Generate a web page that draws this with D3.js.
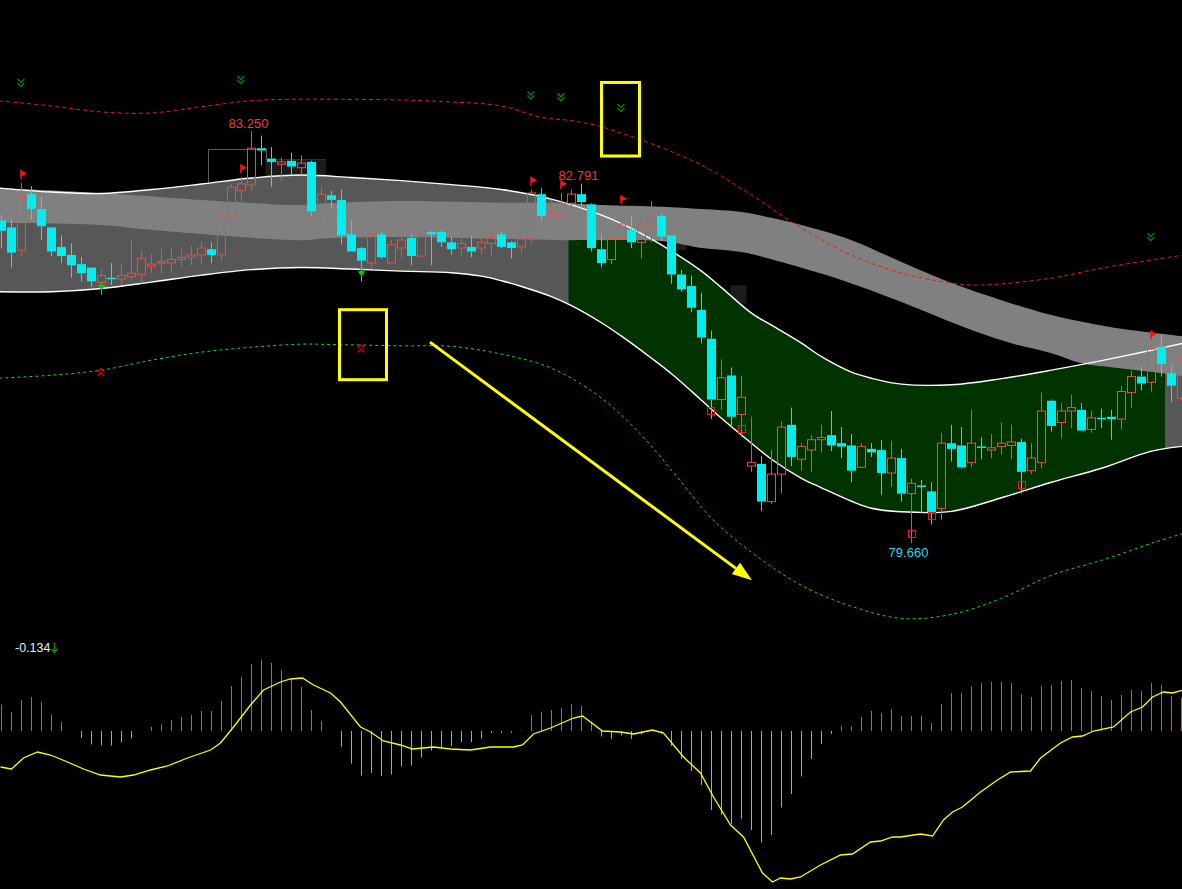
<!DOCTYPE html>
<html>
<head>
<meta charset="utf-8">
<script src="https://d3js.org/d3.v7.min.js"></script>
<style>
html, body { margin: 0; padding: 0; background: #000; overflow: hidden; }
</style>
</head>
<body>
<div id="chart"></div>
<script>
// ---- candles (bar 0..118) ----
const candleOpen = [82.47,82.41,82.21,82.70,82.57,82.41,82.24,82.17,82.09,82.06,81.93,81.97,81.96,81.98,82.00,82.07,82.10,82.10,82.13,82.15,
  82.17,82.22,82.17,82.50,82.73,82.78,83.10,83.01,82.96,82.99,82.93,82.98,82.55,82.69,82.65,82.35,82.23,82.10,82.35,82.10,
  82.23,82.32,82.16,82.37,82.37,82.28,82.23,82.24,82.23,82.27,82.35,82.28,82.24,82.31,82.70,82.50,82.52,82.62,82.70,82.61,
  82.22,82.13,82.31,82.39,82.28,82.42,82.51,82.34,82.00,81.90,81.69,81.44,80.91,81.12,80.78,80.33,80.35,80.02,80.26,80.69,
  80.39,80.47,80.56,80.60,80.53,80.51,80.32,80.48,80.47,80.27,80.40,80.09,80.16,80.11,79.96,80.53,80.51,80.36,80.50,80.47,
  80.50,80.51,80.54,80.29,80.36,80.90,80.71,80.81,80.82,80.65,80.75,80.76,80.74,80.97,81.11,81.06,81.37,81.14,80.92];
const candleHigh = [82.52,82.48,82.80,82.77,82.68,82.41,82.34,82.27,82.15,82.06,82.04,82.10,82.10,82.30,82.21,82.18,82.22,82.23,82.22,82.25,
  82.29,82.28,82.61,82.79,82.85,83.25,83.21,83.11,83.02,83.06,83.04,82.99,82.76,82.73,82.74,82.47,82.24,82.37,82.37,82.30,
  82.34,82.35,82.62,82.38,82.39,82.33,82.42,82.34,82.34,82.38,82.38,82.29,82.37,82.74,82.75,82.65,82.71,82.74,82.791,82.62,
  82.35,82.36,82.58,82.51,82.52,82.64,82.53,82.34,82.04,81.99,81.84,81.51,81.26,81.19,81.12,80.76,80.42,80.47,80.72,80.84,
  80.53,80.60,80.69,80.81,80.67,80.61,80.53,80.53,80.56,80.55,80.48,80.22,80.21,80.19,80.62,80.69,80.67,80.82,80.58,80.61,
  80.71,80.69,80.57,80.53,80.97,80.91,80.88,80.95,80.88,80.81,80.83,80.82,81.03,81.16,81.20,81.40,81.48,81.21,81.30];
const candleLow = [82.23,82.06,82.15,82.48,82.30,82.16,82.10,81.97,81.94,81.89,81.82,81.91,81.91,81.95,81.92,82.01,82.01,82.02,82.07,82.08,
  82.09,82.10,82.12,82.42,82.63,82.73,82.95,82.76,82.81,82.87,82.87,82.51,82.44,82.58,82.26,82.20,81.94,82.05,82.14,82.10,
  82.14,82.08,82.15,82.08,82.24,82.17,82.15,82.15,82.17,82.15,82.23,82.14,82.19,82.27,82.47,82.48,82.47,82.53,82.59,82.20,
  82.06,82.09,82.30,82.23,82.14,82.28,82.29,81.92,81.85,81.67,81.40,80.74,80.82,80.66,80.58,80.28,79.94,80.00,80.09,80.33,
  80.29,80.28,80.45,80.46,80.40,80.19,80.32,80.41,80.08,80.15,80.02,79.66,79.92,79.82,79.86,80.37,80.31,80.32,80.39,80.40,
  80.43,80.39,80.09,80.26,80.31,80.63,80.57,80.66,80.64,80.62,80.66,80.56,80.65,80.84,80.99,80.98,81.11,80.89,80.90];
const candleClose = [82.38,82.19,82.68,82.57,82.42,82.20,82.16,82.08,82.01,81.94,81.99,81.96,81.99,82.01,82.14,82.09,82.11,82.13,82.15,82.17,
  82.23,82.17,82.50,82.76,82.79,83.10,83.08,82.98,82.98,82.94,82.97,82.55,82.70,82.65,82.34,82.20,82.12,82.35,82.15,82.26,
  82.30,82.16,82.34,82.35,82.28,82.22,82.27,82.20,82.28,82.33,82.24,82.23,82.31,82.71,82.51,82.54,82.62,82.70,82.63,82.23,
  82.10,82.31,82.44,82.28,82.44,82.51,82.33,82.00,81.87,81.71,81.45,80.91,81.10,80.76,80.93,80.36,80.02,80.26,80.67,80.41,
  80.50,80.56,80.58,80.51,80.50,80.29,80.50,80.45,80.27,80.40,80.09,80.18,80.15,79.93,80.53,80.48,80.32,80.53,80.49,80.49,
  80.53,80.54,80.28,80.40,80.81,80.68,80.81,80.84,80.64,80.75,80.74,80.74,80.98,81.11,81.05,81.35,81.22,81.03,81.25];

// ---- envelope (white lines), keyed by bar index ----
const envUpperBar = [-0.2,5,10,15,20,25,30,35,40,45,50,55,60,62,65,67,70,72,75,77,80,82,85,87,90,95,100,105,110,115,118.2];
const envUpperVal = [82.753,82.718,82.705,82.740,82.788,82.840,82.866,82.845,82.818,82.783,82.740,82.657,82.517,82.443,82.308,82.204,82.029,81.885,81.663,81.558,81.401,81.284,81.149,81.096,81.044,81.039,81.092,81.166,81.249,81.340,81.401];
const envLowerBar = [-0.2,5,10,15,20,25,30,35,40,45,48,50,52,55,57,60,62,65,67,70,72,75,77,80,82,85,87,90,95,100,105,110,115,118.2];
const envLowerVal = [81.849,81.849,81.878,81.933,81.994,82.042,82.061,82.047,82.029,82.015,81.985,81.945,81.895,81.807,81.728,81.579,81.462,81.270,81.135,80.904,80.747,80.529,80.390,80.224,80.141,80.024,79.963,79.932,79.936,80.054,80.189,80.311,80.460,80.503];
const trendZoneFrom = [56.7];
const trendZoneTo = [116.35];

// ---- grey ribbon ----
const ribbonTopBar = [-0.2,10,13,20,25,30,33,40,50,56,60,66,70,74,78,80,85,90,95,100,105,111,118.2];
const ribbonTopVal = [82.753,82.709,82.692,82.648,82.622,82.605,82.622,82.640,82.625,82.622,82.605,82.590,82.570,82.544,82.474,82.430,82.299,82.108,81.925,81.776,81.646,81.541,81.462];
const ribbonBotBar = [-0.2,10,14,20,30,33,40,50,56,60,66,70,74,78,84,90,97,101,105,108,111,116,118.2];
const ribbonBotVal = [82.448,82.430,82.395,82.352,82.299,82.317,82.326,82.309,82.299,82.299,82.291,82.230,82.195,82.108,81.951,81.759,81.515,81.401,81.314,81.227,81.192,81.140,81.114];

// ---- dashed channel lines ----
const dashUpperBar = [-0.2,5,10,15,20,25,29,34,40,45,50,54,57,60,62,64,70,75,80,85,90,95,98,105,110,118.2];
const dashUpperVal = [83.512,83.468,83.416,83.407,83.462,83.514,83.526,83.526,83.520,83.503,83.468,83.369,83.340,83.287,83.230,83.172,82.953,82.692,82.404,82.169,82.012,81.925,81.907,81.968,82.055,82.169];
const dashLowerBar = [-0.2,5,10,15,20,25,30,33,40,45,50,55,60,64,68,71,75,80,85,90,95,100,105,110,115,118.2];
const dashLowerVal = [81.096,81.122,81.166,81.253,81.323,81.366,81.393,81.390,81.378,81.373,81.305,81.183,80.922,80.599,80.189,79.875,79.579,79.291,79.108,79.003,79.038,79.178,79.379,79.509,79.657,79.744];

// ---- signals ----
const sellBars = [2, 24, 53, 56, 62, 115];
const sellLevel = [83.668, 83.695, 83.560, 83.543, 83.451, 82.326];
const buyBars = [10, 36];
const buyLevel = [81.149, 81.354];
const stopBars = [71, 74, 91, 93, 102];
const stopLevel = [80.808, 80.651, 79.740, 79.897, 80.163];
const highLabelBars = [25, 58];
const lowLabelBars = [91];

// ---- shaded boxes [bar from, bar to, price top, price bottom] ----
const boxOutline = [[20.6, 26.4, 83.093, 82.77]];
const boxDark = [[26.4, 32.45, 83.006, 82.858], [67.5, 68.5, 82.299, 82.212], [72.9, 74.5, 81.907, 81.747]];

// ---- hand drawn annotations ----
const noteRects = [[60, 63.8, 83.673, 83.032], [33.8, 38.5, 81.693, 81.083]];
const noteArrow = [[42.85, 81.410], [75.05, 79.335]];

// ---- oscillator panel ----
const histValues = [0.0265,0.019,0.031,0.034,0.029,0.0165,0.009,0,-0.007,-0.0135,-0.0145,-0.0145,-0.011,-0.0075,0,0.004,0.0065,0.011,0.014,0.016,
  0.020,0.020,0.030,0.045,0.054,0.067,0.0715,0.068,0.061,0.0515,0.044,0.021,0.010,0,-0.016,-0.0325,-0.0445,-0.042,-0.045,-0.0435,
  -0.0355,-0.0345,-0.0265,-0.0195,-0.016,-0.015,-0.011,-0.011,-0.0075,-0.002,-0.002,-0.0015,0.0005,0.016,0.0195,0.021,0.023,0.027,0.025,0.0095,
  -0.0055,-0.008,-0.0045,-0.008,-0.0035,0,-0.0025,-0.015,-0.028,-0.040,-0.054,-0.079,-0.084,-0.093,-0.088,-0.099,-0.1115,-0.104,-0.0765,-0.063,
  -0.0455,-0.028,-0.013,-0.003,0.005,0.005,0.014,0.020,0.018,0.022,0.015,0.015,0.015,0.008,0.027,0.038,0.038,0.045,0.048,0.049,
  0.049,0.048,0.037,0.034,0.045,0.046,0.050,0.051,0.043,0.040,0.035,0.031,0.036,0.041,0.040,0.048,0.046,0.035,0.033];
const signalBar = [-0.1,1,2.2,3.6,4.9,6.6,8.2,9.9,11.9,13.2,14.9,16.6,18.6,20.9,21.9,23.2,24.9,26.2,27.9,28.9,30.1,31.2,32.9,33.9,35.9,36.9,38.2,39.9,
  41.1,43.2,44.9,46.9,48.9,51.2,52.1,53.2,54.9,57.2,58.1,60.1,61.9,63.2,65.1,66.2,68.2,69.9,71.2,72.9,74.2,76.1,77.1,77.9,78.9,79.9,
  81.9,83.9,85.1,86.9,87.9,89.1,89.9,91.9,93.1,94.2,95.1,96.1,97.9,99.6,100.9,102.9,103.9,105.9,107.1,108.1,109.2,111.2,112.9,114.1,115.1,116.2,117.1,118.2];
const signalVal = [-0.036,-0.038,-0.027,-0.021,-0.024,-0.031,-0.038,-0.044,-0.046,-0.044,-0.039,-0.035,-0.027,-0.019,-0.012,0.004,0.026,0.041,0.049,0.052,0.053,0.046,0.038,0.029,0.004,-0.001,-0.010,-0.014,
  -0.018,-0.016,-0.018,-0.019,-0.016,-0.016,-0.014,-0.003,0.003,0.013,0.015,0.000,-0.001,-0.003,0.001,-0.002,-0.026,-0.042,-0.066,-0.094,-0.106,-0.142,-0.151,-0.147,-0.148,-0.146,
  -0.134,-0.124,-0.123,-0.111,-0.110,-0.106,-0.106,-0.103,-0.105,-0.089,-0.081,-0.076,-0.061,-0.049,-0.041,-0.040,-0.027,-0.012,-0.006,-0.005,0.000,0.004,0.019,0.024,0.034,0.039,0.038,0.041];
const oscLabel = '-0.134';

const width = 1182, height = 889;
const red = '#f24848', cyan = '#00eef0';

const svg = d3.select('#chart').append('svg')
  .attr('width', width).attr('height', height)
  .style('display', 'block').style('background', '#000');

const x = d3.scaleLinear().domain([0, 118]).range([1.5, 1181.5]);
const y = d3.scaleLinear().domain([79.66, 83.25]).range([543, 131]);
const oy = d3.scaleLinear().domain([-0.15, 0.05]).range([881, 681]);

const smooth = d3.line().curve(d3.curveCatmullRom.alpha(0.5));
function pts(bars, vals) { return bars.map((b, i) => [x(b), y(vals[i])]); }
function band(tb, tv, bb, bv) {
  return smooth(pts(tb, tv)) + 'L' + smooth(pts(bb, bv).reverse()).slice(1) + 'Z';
}

// boxes behind everything
svg.selectAll('.boxo').data(boxOutline).enter().append('rect')
  .attr('x', d => Math.round(x(d[0])) + 0.5).attr('y', d => Math.round(y(d[2])) + 0.5)
  .attr('width', d => x(d[1]) - x(d[0])).attr('height', d => y(d[3]) - y(d[2]))
  .attr('fill', 'none').attr('stroke', '#5a5a5a');
svg.selectAll('.boxd').data(boxDark).enter().append('rect')
  .attr('x', d => x(d[0])).attr('y', d => y(d[2]))
  .attr('width', d => x(d[1]) - x(d[0])).attr('height', d => y(d[3]) - y(d[2]))
  .attr('fill', '#1c1c1c');
svg.append('line')
  .attr('x1', x(boxDark[0][0])).attr('x2', x(boxDark[0][1]))
  .attr('y1', Math.round(y(boxDark[0][2])) + 0.5).attr('y2', Math.round(y(boxDark[0][2])) + 0.5)
  .attr('stroke', '#444').attr('stroke-dasharray', '1,1');

// envelope fill
const envPath = band(envUpperBar, envUpperVal, envLowerBar, envLowerVal);
svg.append('path').attr('d', envPath).attr('fill', '#575757');
svg.append('clipPath').attr('id', 'zone').append('rect')
  .attr('x', x(trendZoneFrom[0])).attr('y', 0)
  .attr('width', x(trendZoneTo[0]) - x(trendZoneFrom[0])).attr('height', height);
svg.append('path').attr('d', envPath).attr('fill', '#003300').attr('clip-path', 'url(#zone)');

// ribbon
svg.append('path').attr('d', band(ribbonTopBar, ribbonTopVal, ribbonBotBar, ribbonBotVal)).attr('fill', '#808080');

// envelope lines
[[envUpperBar, envUpperVal], [envLowerBar, envLowerVal]].forEach(l => {
  svg.append('path').attr('d', smooth(pts(l[0], l[1])))
    .attr('fill', 'none').attr('stroke', '#fff').attr('stroke-width', 1.4);
});

// dashed channel
svg.append('path').attr('d', smooth(pts(dashUpperBar, dashUpperVal)))
  .attr('fill', 'none').attr('stroke', '#e81c1c').attr('stroke-width', 1).attr('stroke-dasharray', '4,3');
svg.append('path').attr('d', smooth(pts(dashLowerBar, dashLowerVal)))
  .attr('fill', 'none').attr('stroke', '#14dc14').attr('stroke-width', 1).attr('stroke-dasharray', '3,3');

// candles
const bars = d3.range(candleOpen.length);
const g = svg.append('g');
bars.forEach(i => {
  const o = candleOpen[i], c = candleClose[i];
  const up = c > o;
  const col = up ? red : cyan;
  let top = y(Math.max(o, c)), bot = y(Math.min(o, c));
  if (bot - top < 1.5) { const m = (top + bot) / 2; top = m - 0.75; bot = m + 0.75; }
  const cx = x(i);
  g.append('line').attr('x1', cx).attr('x2', cx).attr('y1', y(candleHigh[i])).attr('y2', top)
    .attr('stroke', col);
  g.append('line').attr('x1', cx).attr('x2', cx).attr('y1', bot).attr('y2', y(candleLow[i]))
    .attr('stroke', col);
  if (up) {
    g.append('rect').attr('x', cx - 4).attr('y', top).attr('width', 8).attr('height', Math.max(1, bot - top))
      .attr('fill', 'none').attr('stroke', col).attr('stroke-width', 1);
  } else {
    g.append('rect').attr('x', cx - 4.5).attr('y', top).attr('width', 9).attr('height', bot - top)
      .attr('fill', col);
  }
});

// fractal flags on highs
sellBars.forEach(i => {
  const fx = x(i) - 0.5, fy = y(candleHigh[i]) - 12.7;
  svg.append('line').attr('x1', fx).attr('x2', fx).attr('y1', fy).attr('y2', fy + 9)
    .attr('stroke', '#ff1010').attr('stroke-width', 1.5);
  svg.append('path').attr('d', `M${fx},${fy}L${fx + 6},${fy + 3.5}L${fx},${fy + 6.5}Z`).attr('fill', '#ff1010');
});

// sell chevrons
sellBars.forEach((b, i) => {
  const cx = x(b) - 0.5, cy = y(sellLevel[i]) - 4;
  svg.append('path')
    .attr('d', `M${cx - 3.5},${cy}L${cx},${cy + 3.5}L${cx + 3.5},${cy}M${cx - 3.5},${cy + 4}L${cx},${cy + 7.5}L${cx + 3.5},${cy + 4}`)
    .attr('fill', 'none').attr('stroke', '#0b7a0b').attr('stroke-width', 1.5);
});

// buy chevrons + arrows under lows
buyBars.forEach((b, i) => {
  const cx = x(b) - 0.5, cy = y(buyLevel[i]) + 4;
  svg.append('path')
    .attr('d', `M${cx - 3.5},${cy}L${cx},${cy - 3.5}L${cx + 3.5},${cy}M${cx - 3.5},${cy - 4}L${cx},${cy - 7.5}L${cx + 3.5},${cy - 4}`)
    .attr('fill', 'none').attr('stroke', '#c80000').attr('stroke-width', 1.5);
  const ax = x(b), ay = y(candleLow[b]) - 13;
  svg.append('line').attr('x1', ax).attr('x2', ax).attr('y1', ay).attr('y2', ay + 4)
    .attr('stroke', '#10c810').attr('stroke-width', 2);
  svg.append('path').attr('d', `M${ax - 4},${ay + 3}L${ax + 4},${ay + 3}L${ax},${ay + 8}Z`).attr('fill', '#10c810');
});

// stop squares
stopBars.forEach((b, i) => {
  svg.append('rect').attr('x', Math.round(x(b)) - 3.5).attr('y', Math.round(y(stopLevel[i])) - 3.5)
    .attr('width', 7).attr('height', 7).attr('fill', 'none').attr('stroke', '#ff1010');
});

// price labels
const fmt = d3.format('.3f');
highLabelBars.forEach(b => {
  svg.append('text').attr('x', x(b) - 3).attr('y', y(candleHigh[b]) - 3.5)
    .attr('text-anchor', 'middle').attr('fill', '#f03c3c')
    .style('font', '13px "Liberation Sans", Arial, sans-serif').text(fmt(candleHigh[b]));
});
lowLabelBars.forEach(b => {
  svg.append('text').attr('x', x(b) - 3).attr('y', y(candleLow[b]) + 13.5)
    .attr('text-anchor', 'middle').attr('fill', '#22d8f0')
    .style('font', '13px "Liberation Sans", Arial, sans-serif').text(fmt(candleLow[b]));
});

// annotations
svg.selectAll('.note').data(noteRects).enter().append('rect')
  .attr('x', d => x(d[0])).attr('y', d => y(d[2]))
  .attr('width', d => x(d[1]) - x(d[0])).attr('height', d => y(d[3]) - y(d[2]))
  .attr('fill', 'none').attr('stroke', '#ffff00').attr('stroke-width', 3);
{
  const x1 = x(noteArrow[0][0]), y1 = y(noteArrow[0][1]);
  const x2 = x(noteArrow[1][0]), y2 = y(noteArrow[1][1]);
  const len = Math.hypot(x2 - x1, y2 - y1), ux = (x2 - x1) / len, uy = (y2 - y1) / len;
  const hl = 20, hw = 7;
  const bx = x2 - ux * hl, by = y2 - uy * hl;
  svg.append('line').attr('x1', x1).attr('y1', y1).attr('x2', bx).attr('y2', by)
    .attr('stroke', '#ffff00').attr('stroke-width', 3);
  svg.append('path')
    .attr('d', `M${x2},${y2}L${bx - uy * hw},${by + ux * hw}L${bx + uy * hw},${by - ux * hw}Z`)
    .attr('fill', '#ffff00');
}

// oscillator histogram
svg.selectAll('.hist').data(bars.filter(i => histValues[i] !== 0)).enter().append('line')
  .attr('x1', i => x(i)).attr('x2', i => x(i))
  .attr('y1', oy(0)).attr('y2', i => oy(histValues[i]))
  .attr('stroke', i => histValues[i] > 0 ? '#e84a4a' : '#2ad8e8').attr('stroke-width', 1);

// signal line
svg.append('path')
  .attr('d', d3.line().x((d, i) => x(signalBar[i])).y(d => oy(d)).curve(d3.curveLinear)(signalVal))
  .attr('fill', 'none').attr('stroke', '#ffff00').attr('stroke-width', 1.3);

svg.append('text').attr('x', 15).attr('y', 652).attr('fill', '#e2f0ff')
  .style('font', '12.5px "Liberation Sans", Arial, sans-serif').text(oscLabel);
// small green "falling" arrow after the value
svg.append('path').attr('d', 'M54.5,643V652M51.5,649L54.5,652.5L57.5,649')
  .attr('fill', 'none').attr('stroke', '#0a9a0a').attr('stroke-width', 1.3);
</script>
</body>
</html>
